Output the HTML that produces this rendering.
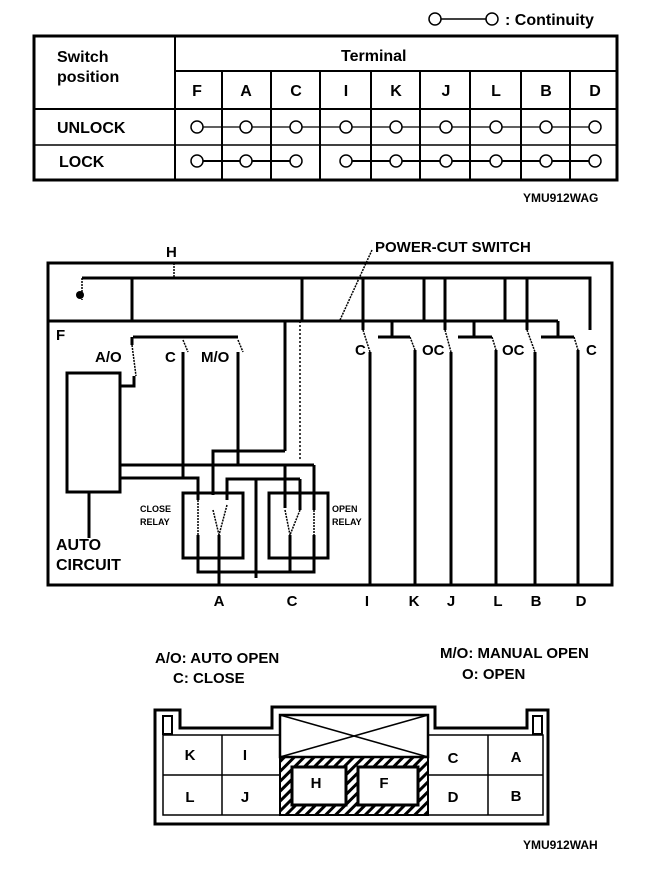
<!DOCTYPE html>
<html><head><meta charset="utf-8"><style>
html,body{margin:0;padding:0;background:#fff;}
svg{display:block;}
text{font-family:"Liberation Sans",Arial,sans-serif;font-weight:bold;fill:#000;}
</style></head><body>
<svg width="672" height="874" viewBox="0 0 672 874" xmlns="http://www.w3.org/2000/svg">
<defs>
<pattern id="hatch" width="7" height="7" patternUnits="userSpaceOnUse" patternTransform="rotate(45)">
<rect width="7" height="7" fill="#fff"/><rect width="3" height="7" fill="#000"/></pattern>
</defs>
<!-- Legend -->
<g stroke="#000" fill="#fff" stroke-width="1.5">
<circle cx="435" cy="19" r="6"/><line x1="441" y1="19" x2="486" y2="19"/><circle cx="492" cy="19" r="6"/>
</g>
<text x="505" y="25" font-size="16">: Continuity</text>
<!-- Table -->
<g stroke="#000" fill="none">
<rect x="34" y="36" width="583" height="144" stroke-width="3"/>
<line x1="175" y1="36" x2="175" y2="180" stroke-width="2"/>
<line x1="175" y1="71" x2="617" y2="71" stroke-width="2"/>
<line x1="34" y1="109" x2="617" y2="109" stroke-width="2"/>
<line x1="34" y1="145" x2="617" y2="145" stroke-width="1.5"/>
<g stroke-width="2">
<line x1="222" y1="71" x2="222" y2="180"/><line x1="271" y1="71" x2="271" y2="180"/>
<line x1="320" y1="71" x2="320" y2="180"/><line x1="371" y1="71" x2="371" y2="180"/>
<line x1="420" y1="71" x2="420" y2="180"/><line x1="470" y1="71" x2="470" y2="180"/>
<line x1="521" y1="71" x2="521" y2="180"/><line x1="570" y1="71" x2="570" y2="180"/>
</g>
<line x1="197" y1="127" x2="595" y2="127" stroke-width="1.2"/>
<line x1="197" y1="161" x2="296" y2="161" stroke-width="2"/>
<line x1="346" y1="161" x2="595" y2="161" stroke-width="2"/>
</g>
<g stroke="#000" fill="#fff" stroke-width="1.5">
<circle cx="197" cy="127" r="6"/><circle cx="246" cy="127" r="6"/><circle cx="296" cy="127" r="6"/><circle cx="346" cy="127" r="6"/><circle cx="396" cy="127" r="6"/><circle cx="446" cy="127" r="6"/><circle cx="496" cy="127" r="6"/><circle cx="546" cy="127" r="6"/><circle cx="595" cy="127" r="6"/>
<circle cx="197" cy="161" r="6"/><circle cx="246" cy="161" r="6"/><circle cx="296" cy="161" r="6"/><circle cx="346" cy="161" r="6"/><circle cx="396" cy="161" r="6"/><circle cx="446" cy="161" r="6"/><circle cx="496" cy="161" r="6"/><circle cx="546" cy="161" r="6"/><circle cx="595" cy="161" r="6"/>
</g>
<text x="57" y="62" font-size="16">Switch</text>
<text x="57" y="82" font-size="16">position</text>
<text x="341" y="61" font-size="16">Terminal</text>
<g font-size="16" text-anchor="middle">
<text x="197" y="96">F</text><text x="246" y="96">A</text><text x="296" y="96">C</text><text x="346" y="96">I</text><text x="396" y="96">K</text><text x="446" y="96">J</text><text x="496" y="96">L</text><text x="546" y="96">B</text><text x="595" y="96">D</text>
</g>
<text x="57" y="133" font-size="16">UNLOCK</text>
<text x="59" y="167" font-size="16">LOCK</text>
<text x="523" y="202" font-size="12" font-weight="normal">YMU912WAG</text>

<!-- Circuit -->
<g stroke="#000" fill="none" stroke-width="3">
<rect x="48" y="263" width="564" height="322"/>
<polyline points="82,278 590,278 590,330"/>
<line x1="48" y1="321" x2="558" y2="321"/>
<line x1="132" y1="278" x2="132" y2="321"/>
<line x1="302" y1="278" x2="302" y2="321"/>
<line x1="363" y1="278" x2="363" y2="330"/>
<line x1="424" y1="278" x2="424" y2="321"/>
<line x1="445" y1="278" x2="445" y2="330"/>
<line x1="505" y1="278" x2="505" y2="321"/>
<line x1="527" y1="278" x2="527" y2="330"/>
<line x1="558" y1="321" x2="558" y2="330"/>
<!-- switch bars -->
<line x1="378" y1="337" x2="410" y2="337"/><line x1="392" y1="321" x2="392" y2="337"/>
<line x1="458" y1="337" x2="492" y2="337"/><line x1="474" y1="321" x2="474" y2="337"/>
<line x1="541" y1="337" x2="574" y2="337"/><line x1="558" y1="330" x2="558" y2="337"/>
<!-- pole lines -->
<line x1="370" y1="352" x2="370" y2="585"/>
<line x1="415" y1="350" x2="415" y2="585"/>
<line x1="451" y1="352" x2="451" y2="585"/>
<line x1="496" y1="350" x2="496" y2="585"/>
<line x1="535" y1="352" x2="535" y2="585"/>
<line x1="578" y1="350" x2="578" y2="585"/>
<!-- left switches -->
<line x1="133" y1="337" x2="238" y2="337"/>
<line x1="132" y1="337" x2="132" y2="345"/>
<polyline points="120,386 134,386 134,376"/>
<line x1="183" y1="352" x2="183" y2="478"/>
<line x1="238" y1="352" x2="238" y2="465"/>
<rect x="67" y="373" width="53" height="119"/>
<line x1="89" y1="492" x2="89" y2="538"/>
<line x1="285" y1="321" x2="285" y2="451"/>
<line x1="300" y1="321" x2="300" y2="460" stroke-width="1.5" stroke-dasharray="2,2"/>
<polyline points="213,495 213,451 285,451"/>
<line x1="120" y1="465" x2="314" y2="465"/>
<polyline points="120,478 198,478 198,500"/>
<polyline points="227,500 227,479 300,479"/>
<line x1="256" y1="479" x2="256" y2="578"/>
<rect x="183" y="493" width="60" height="65"/>
<rect x="269" y="493" width="59" height="65"/>
<polyline points="285,465 285,508"/><line x1="300" y1="479" x2="300" y2="510"/><line x1="314" y1="465" x2="314" y2="510"/>
<polyline points="198,535 198,572 314,572 314,535"/>
<line x1="219" y1="535" x2="219" y2="585"/>
<line x1="290" y1="535" x2="290" y2="572"/>
</g>
<g stroke="#000" fill="none" stroke-width="1.5" stroke-dasharray="2,1">
<line x1="174" y1="263" x2="174" y2="278"/>
<line x1="82" y1="278" x2="82" y2="300"/>
<line x1="340" y1="320" x2="372" y2="250"/>
<line x1="132" y1="345" x2="136" y2="376"/>
<line x1="183" y1="340" x2="188" y2="352"/>
<line x1="238" y1="340" x2="243" y2="352"/>
<line x1="363" y1="330" x2="370" y2="352"/><line x1="410" y1="337" x2="415" y2="350"/>
<line x1="445" y1="330" x2="451" y2="352"/><line x1="492" y1="337" x2="496" y2="350"/>
<line x1="527" y1="330" x2="535" y2="352"/><line x1="574" y1="337" x2="578" y2="350"/>
<line x1="198" y1="500" x2="198" y2="535"/><line x1="213" y1="510" x2="219" y2="535"/><line x1="227" y1="505" x2="219" y2="535"/>
<line x1="285" y1="510" x2="290" y2="535"/><line x1="300" y1="510" x2="290" y2="535"/><line x1="314" y1="510" x2="314" y2="535"/>
</g>
<circle cx="80" cy="295" r="4" fill="#000"/>
<text x="166" y="257" font-size="15">H</text>
<text x="375" y="252" font-size="15">POWER-CUT SWITCH</text>
<text x="56" y="340" font-size="15">F</text>
<text x="95" y="362" font-size="15">A/O</text>
<text x="165" y="362" font-size="15">C</text>
<text x="201" y="362" font-size="15">M/O</text>
<text x="355" y="355" font-size="15">C</text>
<text x="422" y="355" font-size="15">OC</text>
<text x="502" y="355" font-size="15">OC</text>
<text x="586" y="355" font-size="15">C</text>
<text x="56" y="550" font-size="16">AUTO</text>
<text x="56" y="570" font-size="16">CIRCUIT</text>
<text x="140" y="512" font-size="9">CLOSE</text>
<text x="140" y="525" font-size="9">RELAY</text>
<text x="332" y="512" font-size="9">OPEN</text>
<text x="332" y="525" font-size="9">RELAY</text>
<g font-size="15" text-anchor="middle">
<text x="219" y="606">A</text><text x="292" y="606">C</text><text x="367" y="606">I</text><text x="414" y="606">K</text><text x="451" y="606">J</text><text x="498" y="606">L</text><text x="536" y="606">B</text><text x="581" y="606">D</text>
</g>

<text x="155" y="663" font-size="15">A/O: AUTO OPEN</text>
<text x="173" y="683" font-size="15">C: CLOSE</text>
<text x="440" y="658" font-size="15">M/O: MANUAL OPEN</text>
<text x="462" y="679" font-size="15">O: OPEN</text>

<!-- connector -->
<g stroke="#000" fill="none" stroke-width="3">
<path d="M155,824 L155,710 L180,710 L180,728 L272,728 L272,707 L435,707 L435,728 L527,728 L527,710 L548,710 L548,824 Z"/>
<rect x="163" y="716" width="9" height="18" stroke-width="2"/>
<rect x="533" y="716" width="9" height="18" stroke-width="2"/>
<rect x="163" y="735" width="380" height="80" stroke-width="1.5"/>
</g>
<g stroke="#000" fill="none" stroke-width="1.5">
<line x1="163" y1="775" x2="280" y2="775"/><line x1="428" y1="775" x2="543" y2="775"/>
<line x1="222" y1="735" x2="222" y2="815"/><line x1="488" y1="735" x2="488" y2="815"/>
</g>
<rect x="280" y="757" width="148" height="58" fill="url(#hatch)" stroke="#000" stroke-width="2"/>
<rect x="280" y="715" width="148" height="42" fill="#fff" stroke="#000" stroke-width="2.5"/>
<line x1="280" y1="715" x2="428" y2="757" stroke="#000" stroke-width="1.5"/>
<line x1="428" y1="715" x2="280" y2="757" stroke="#000" stroke-width="1.5"/>
<rect x="292" y="767" width="54" height="38" fill="#fff" stroke="#000" stroke-width="3"/>
<rect x="358" y="767" width="60" height="38" fill="#fff" stroke="#000" stroke-width="3"/>
<g font-size="15" text-anchor="middle">
<text x="190" y="760">K</text><text x="245" y="760">I</text><text x="190" y="802">L</text><text x="245" y="802">J</text>
<text x="316" y="788">H</text><text x="384" y="788">F</text>
<text x="453" y="763">C</text><text x="516" y="762">A</text><text x="453" y="802">D</text><text x="516" y="801">B</text>
</g>
<text x="523" y="849" font-size="12" font-weight="normal">YMU912WAH</text>
</svg>
</body></html>
